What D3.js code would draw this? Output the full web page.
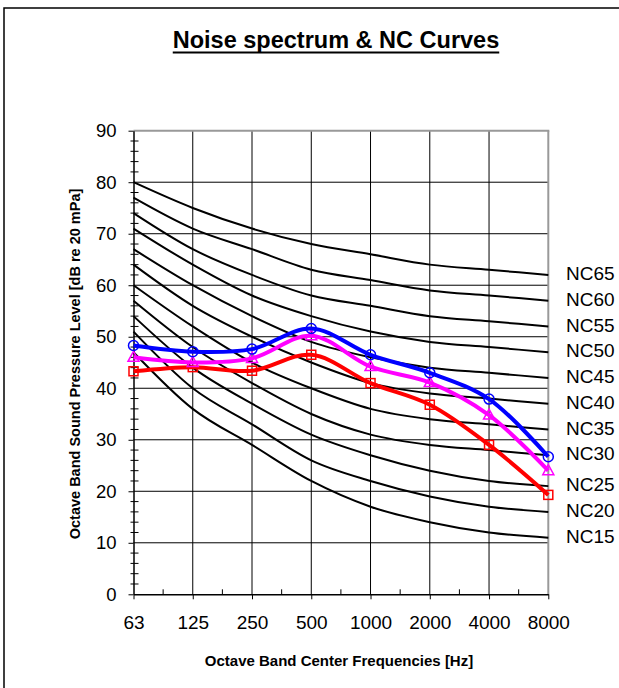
<!DOCTYPE html>
<html>
<head>
<meta charset="utf-8">
<script src="https://cdn.jsdelivr.net/npm/d3@7"></script>
<style>
  html, body { margin: 0; padding: 0; background: #fff; }
  svg { display: block; font-family: "Liberation Sans", Arial, sans-serif; }
</style>
</head>
<body>
<svg id="chart" width="619" height="688"></svg>
<script>
// ---------- data ----------
const freqLabels = ["63", "125", "250", "500", "1000", "2000", "4000", "8000"];
const yTickValues = [0, 10, 20, 30, 40, 50, 60, 70, 80, 90];

const nc15 = [47, 36, 29, 22, 17, 14, 12, 11];
const nc20 = [51, 40, 33, 26, 22, 19, 17, 16];
const nc25 = [54, 44, 37, 31, 27, 24, 22, 21];
const nc30 = [57, 48, 41, 35, 31, 29, 28, 27];
const nc35 = [60, 52, 45, 40, 36, 34, 33, 32];
const nc40 = [64, 56, 50, 45, 41, 39, 38, 37];
const nc45 = [67, 60, 54, 49, 46, 44, 43, 42];
const nc50 = [71, 64, 58, 54, 51, 49, 48, 47];
const nc55 = [74, 67, 62, 58, 56, 54, 53, 52];
const nc60 = [77, 71, 67, 63, 61, 59, 58, 57];
const nc65 = [80, 75, 71, 68, 66, 64, 63, 62];
const ncNames = ["NC15", "NC20", "NC25", "NC30", "NC35", "NC40", "NC45", "NC50", "NC55", "NC60", "NC65"];
const ncCurves = [nc15, nc20, nc25, nc30, nc35, nc40, nc45, nc50, nc55, nc60, nc65];

const blueValues    = [48.3, 47.1, 47.6, 51.6, 46.5, 43.0, 37.9, 26.7];
const magentaValues = [46.0, 45.0, 45.8, 50.2, 44.2, 41.1, 34.8, 24.0];
const redValues     = [43.3, 44.1, 43.4, 46.5, 41.0, 36.8, 29.0, 19.3];

(function () {
// ---------- layout ----------
const svg = d3.select("#chart");
const pLeft = 133.5, pRight = 548.3, pTop = 130.7, pBottom = 594.3;

const x = d3.scaleLinear().domain([0, freqLabels.length - 1]).range([pLeft, pRight]);
const y = d3.scaleLinear().domain([0, 90]).range([pBottom, pTop]);

// outer chart border
svg.append("rect").attr("x", 4).attr("y", 8).attr("width", 640).attr("height", 700)
  .attr("fill", "#fff").attr("stroke", "#000").attr("stroke-width", 1.5);

// title
const title = svg.append("text").attr("x", 336).attr("y", 48)
  .attr("text-anchor", "middle").attr("font-size", 23.5).attr("font-weight", "bold")
  .text("Noise spectrum & NC Curves");
const tw = title.node().getComputedTextLength();
svg.append("line").attr("x1", 336 - tw / 2).attr("x2", 336 + tw / 2)
  .attr("y1", 52.5).attr("y2", 52.5).attr("stroke", "#000").attr("stroke-width", 2);

// gridlines
const grid = svg.append("g");
grid.selectAll("line.h").data(yTickValues.filter(v => v > 0 && v < 90)).enter().append("line")
  .attr("x1", pLeft).attr("x2", pRight).attr("y1", d => y(d)).attr("y2", d => y(d))
  .attr("stroke", "#000").attr("stroke-width", 1);
grid.selectAll("line.v").data(d3.range(1, freqLabels.length - 1)).enter().append("line")
  .attr("x1", d => x(d)).attr("x2", d => x(d)).attr("y1", pTop).attr("y2", pBottom)
  .attr("stroke", "#000").attr("stroke-width", 1);

// plot frame top/right (gray)
svg.append("line").attr("x1", pLeft).attr("x2", pRight + 1).attr("y1", pTop).attr("y2", pTop)
  .attr("stroke", "#999").attr("stroke-width", 2);
svg.append("line").attr("x1", pRight).attr("x2", pRight).attr("y1", pTop).attr("y2", pBottom)
  .attr("stroke", "#999").attr("stroke-width", 2);

// NC curves
const ncLine = d3.line().x((d, i) => x(i)).y(d => y(d)).curve(d3.curveMonotoneX);
svg.append("g").selectAll("path").data(ncCurves).enter().append("path")
  .attr("d", d => ncLine(d)).attr("fill", "none").attr("stroke", "#000").attr("stroke-width", 2);

// NC labels
svg.append("g").selectAll("text").data(ncCurves).enter().append("text")
  .attr("x", 566).attr("y", d => y(d[d.length - 1]) - 1.5).attr("dy", "0.35em")
  .attr("font-size", 19).text((d, i) => ncNames[i]);

// axes
const yAxis = d3.axisLeft(y).tickValues(yTickValues).tickSize(5).tickSizeOuter(0).tickPadding(12);
const gy = svg.append("g").attr("transform", `translate(${pLeft},0)`).call(yAxis);
gy.select(".domain").attr("stroke-width", 1.5);
gy.selectAll("text").attr("font-size", 18.5).attr("font-family", "Liberation Sans, Arial, sans-serif");
// y minor ticks every 2
svg.append("g").selectAll("line").data(d3.range(2, 90, 2).filter(v => v % 10 !== 0)).enter().append("line")
  .attr("x1", pLeft - 3).attr("x2", pLeft + 5).attr("y1", d => y(d)).attr("y2", d => y(d))
  .attr("stroke", "#000").attr("stroke-width", 1);

const xAxis = d3.axisBottom(x).tickValues(d3.range(freqLabels.length))
  .tickFormat(i => freqLabels[i]).tickSize(5).tickSizeOuter(0).tickPadding(16);
const gx = svg.append("g").attr("transform", `translate(0,${pBottom})`).call(xAxis);
gx.select(".domain").attr("stroke-width", 1.5);
gx.selectAll("text").attr("font-size", 19).attr("font-family", "Liberation Sans, Arial, sans-serif");
// x minor ticks (inside) at half positions
svg.append("g").selectAll("line").data(d3.range(0.5, freqLabels.length - 1, 1)).enter().append("line")
  .attr("x1", d => x(d)).attr("x2", d => x(d)).attr("y1", pBottom - 5).attr("y2", pBottom)
  .attr("stroke", "#000").attr("stroke-width", 1);

// axis titles
svg.append("text").attr("x", 339).attr("y", 666).attr("text-anchor", "middle")
  .attr("font-size", 15).attr("font-weight", "bold").text("Octave Band Center Frequencies [Hz]");
svg.append("text").attr("transform", "translate(80,364) rotate(-90)").attr("text-anchor", "middle")
  .attr("font-size", 14.5).attr("font-weight", "bold").text("Octave Band Sound Pressure Level [dB re 20 mPa]");

// data series
const seriesLine = d3.line().x((d, i) => x(i)).y(d => y(d)).curve(d3.curveCatmullRom.alpha(0.5));
const series = [
  { values: redValues, color: "#FF0000", marker: "square" },
  { values: magentaValues, color: "#FF00FF", marker: "triangle" },
  { values: blueValues, color: "#0000FF", marker: "circle" }
];
series.forEach(s => {
  svg.append("path").attr("d", seriesLine(s.values)).attr("fill", "none")
    .attr("stroke", s.color).attr("stroke-width", 4).attr("stroke-linejoin", "round");
  const g = svg.append("g");
  if (s.marker === "circle") {
    g.selectAll("circle").data(s.values).enter().append("circle")
      .attr("cx", (d, i) => x(i)).attr("cy", d => y(d)).attr("r", 5)
      .attr("fill", "none").attr("stroke", s.color).attr("stroke-width", 1.5);
  } else if (s.marker === "square") {
    g.selectAll("rect").data(s.values).enter().append("rect")
      .attr("x", (d, i) => x(i) - 4.5).attr("y", d => y(d) - 4.5).attr("width", 9).attr("height", 9)
      .attr("fill", "none").attr("stroke", s.color).attr("stroke-width", 1.5);
  } else {
    g.selectAll("path").data(s.values).enter().append("path")
      .attr("d", (d, i) => {
        const cx = x(i), cy = y(d);
        return `M${cx},${cy - 6}L${cx + 5.5},${cy + 4}L${cx - 5.5},${cy + 4}Z`;
      })
      .attr("fill", "none").attr("stroke", s.color).attr("stroke-width", 1.5);
  }
});
})();
</script>
</body>
</html>
